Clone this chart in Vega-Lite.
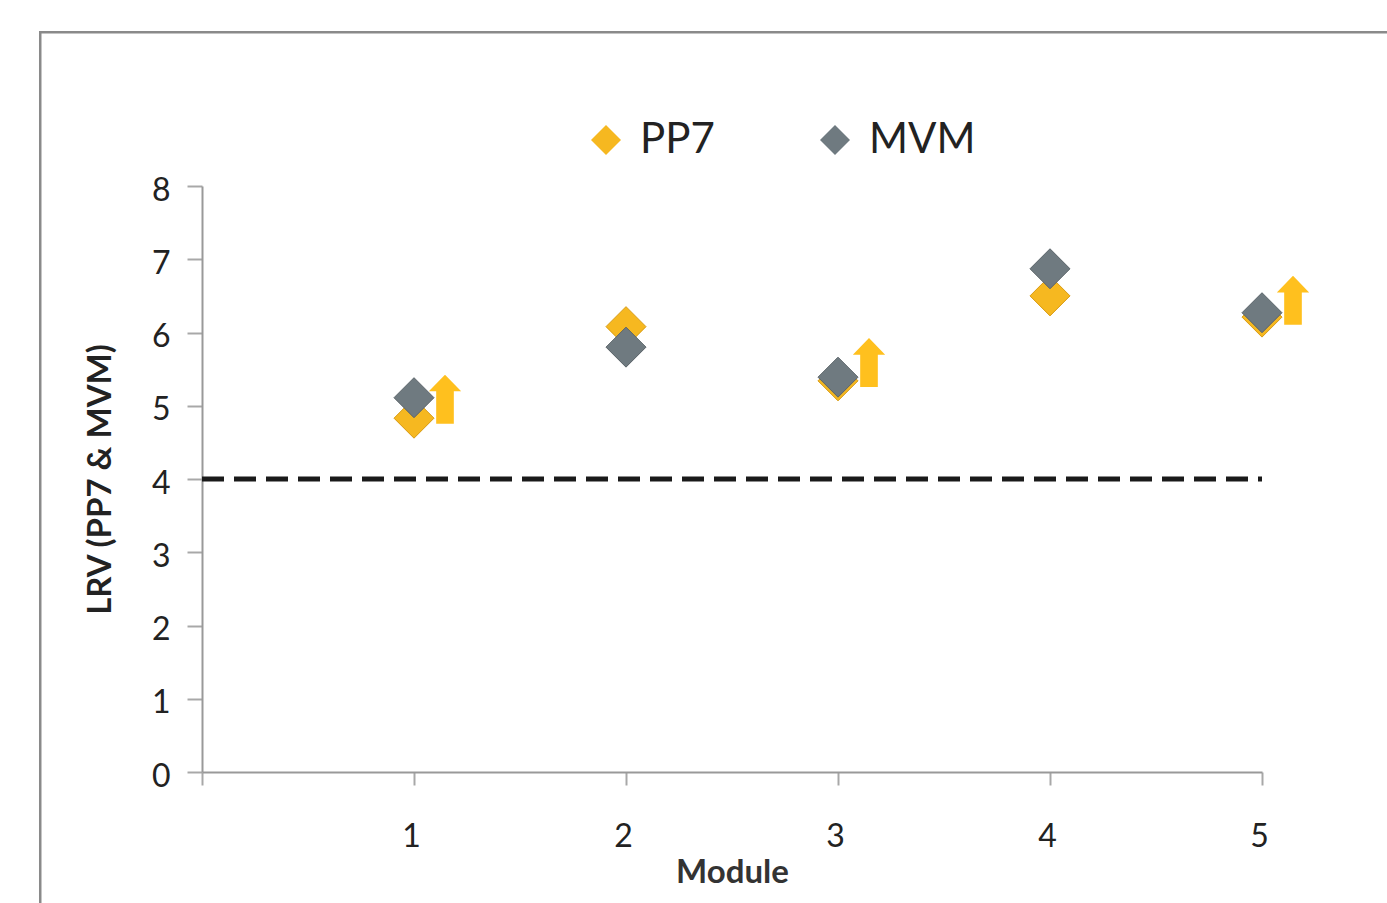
{
  "$schema": "https://vega.github.io/schema/vega-lite/v6.json",
  "width": 1060,
  "height": 586,
  "autosize": {"type": "none"},
  "padding": {"left": 202, "top": 186, "right": 125, "bottom": 131},
  "background": "white",
  "config": {
    "view": {"stroke": null},
    "font": "Lato",
    "axis": {"grid": false, "labelFont": "Lato", "titleFont": "Lato"}
  },
  "datasets": {
    "points": [
      {"module": 1, "lrv": 4.83, "series": "PP7"},
      {"module": 2, "lrv": 6.08, "series": "PP7"},
      {"module": 3, "lrv": 5.34, "series": "PP7"},
      {"module": 4, "lrv": 6.5, "series": "PP7"},
      {"module": 5, "lrv": 6.21, "series": "PP7"},
      {"module": 1, "lrv": 5.11, "series": "MVM"},
      {"module": 2, "lrv": 5.8, "series": "MVM"},
      {"module": 3, "lrv": 5.39, "series": "MVM"},
      {"module": 4, "lrv": 6.87, "series": "MVM"},
      {"module": 5, "lrv": 6.27, "series": "MVM"}
    ],
    "arrows": [
      {"module": 1, "lrv": 5.09},
      {"module": 3, "lrv": 5.59},
      {"module": 5, "lrv": 6.44}
    ],
    "threshold": [{"module": 0, "module2": 5, "lrv": 4}],
    "frame": [{"x": -0.763, "x2": 6, "y": 10.1, "y2": -3}]
  },
  "layer": [
    {
      "data": {"name": "frame"},
      "mark": {"type": "rect", "fill": null, "stroke": "#8a8a8a", "strokeWidth": 2.5, "clip": false},
      "encoding": {
        "x": {"field": "x", "type": "quantitative", "scale": {"domain": [0, 5], "nice": false, "zero": false}},
        "x2": {"field": "x2"},
        "y": {"field": "y", "type": "quantitative", "scale": {"domain": [0, 8], "nice": false}},
        "y2": {"field": "y2"}
      }
    },
    {
      "data": {"name": "threshold"},
      "mark": {"type": "rule", "color": "#1a1a1a", "strokeWidth": 5, "strokeDash": [22, 10]},
      "encoding": {
        "x": {"field": "module", "type": "quantitative"},
        "x2": {"field": "module2"},
        "y": {"field": "lrv", "type": "quantitative"}
      }
    },
    {
      "data": {"name": "arrows"},
      "mark": {
        "type": "point",
        "shape": "M0,-1L0.66,-0.32L0.36,-0.32L0.36,1L-0.36,1L-0.36,-0.32L-0.66,-0.32Z",
        "size": 2400,
        "filled": true,
        "color": "#FFC01E",
        "opacity": 1,
        "xOffset": 31,
        "clip": false
      },
      "encoding": {
        "x": {"field": "module", "type": "quantitative"},
        "y": {"field": "lrv", "type": "quantitative"}
      }
    },
    {
      "data": {"name": "points"},
      "mark": {"type": "point", "shape": "diamond", "size": 1600, "filled": true, "opacity": 1, "strokeWidth": 1, "clip": false},
      "encoding": {
        "x": {
          "field": "module",
          "type": "quantitative",
          "scale": {"domain": [0, 5], "nice": false, "zero": false},
          "axis": {
            "values": [0, 1, 2, 3, 4, 5],
            "format": "d",
            "labelExpr": "datum.value == 0 ? '' : datum.label",
            "labelFlush": false,
            "labelOffset": -3,
            "title": "Module",
            "titleFontSize": 33,
            "titleFontWeight": "bold",
            "titleColor": "#333333",
            "titlePadding": 4,
            "labelFontSize": 32,
            "labelColor": "#222222",
            "labelPadding": 36,
            "tickSize": 13,
            "tickColor": "#a8a8a8",
            "tickWidth": 2,
            "domainColor": "#999999",
            "domainWidth": 2
          }
        },
        "y": {
          "field": "lrv",
          "type": "quantitative",
          "scale": {"domain": [0, 8], "nice": false},
          "axis": {
            "values": [0, 1, 2, 3, 4, 5, 6, 7, 8],
            "format": "d",
            "labelFlush": false,
            "labelOffset": 4,
            "title": "LRV (PP7 & MVM)",
            "titleFontSize": 33,
            "titleFontWeight": "bold",
            "titleColor": "#222222",
            "titlePadding": 34,
            "labelFontSize": 32,
            "labelColor": "#222222",
            "labelPadding": 17,
            "tickSize": 15,
            "tickColor": "#a8a8a8",
            "tickWidth": 2,
            "domainColor": "#999999",
            "domainWidth": 2
          }
        },
        "color": {
          "field": "series",
          "type": "nominal",
          "sort": ["PP7", "MVM"],
          "scale": {"domain": ["PP7", "MVM"], "range": ["#F6B820", "#6F7A80"]},
          "legend": {
            "title": null,
            "orient": "none",
            "direction": "horizontal",
            "legendX": 383,
            "legendY": -67,
            "symbolType": "diamond",
            "symbolSize": 900,
            "symbolStrokeWidth": 0,
            "labelFontSize": 42,
            "labelFont": "Lato",
            "labelColor": "#222222",
            "labelOffset": 13,
            "columnPadding": 99,
            "padding": 0
          }
        },
        "stroke": {
          "field": "series",
          "type": "nominal",
          "scale": {"domain": ["PP7", "MVM"], "range": ["#d89a10", "#5a6368"]},
          "legend": null
        }
      }
    }
  ]
}
